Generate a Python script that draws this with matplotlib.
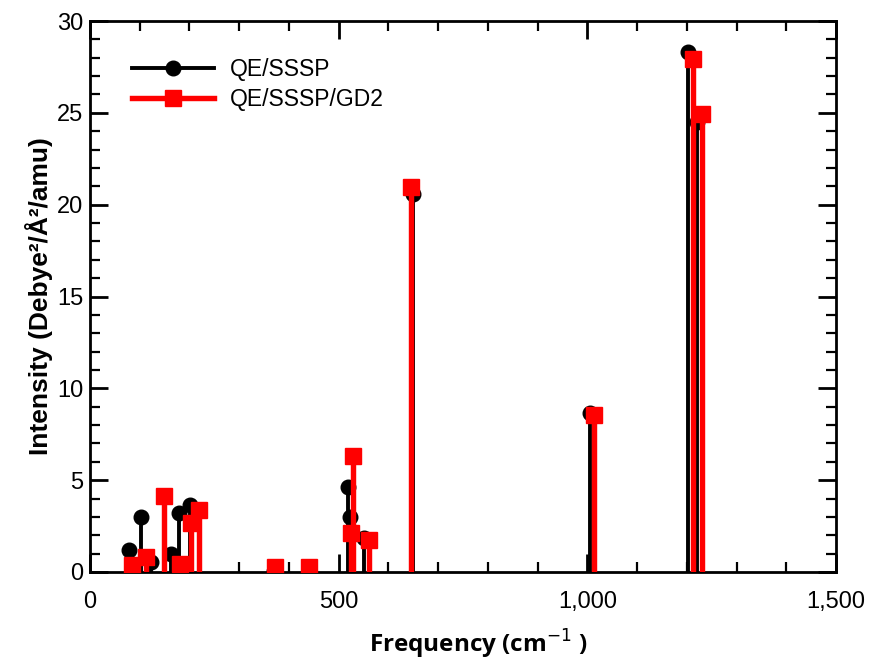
import matplotlib
matplotlib.use("Agg")
import matplotlib.pyplot as plt
from matplotlib.ticker import MultipleLocator, FuncFormatter

# QE/SSSP
freq_sssp = [79, 103, 123, 162, 178, 201, 370, 440, 519, 523, 550, 650, 1005, 1203, 1220]
int_sssp = [1.2, 3.0, 0.56, 1.0, 3.23, 3.65, 0.03, 0.03, 4.64, 3.0, 1.83, 20.6, 8.68, 28.32, 24.5]

# QE/SSSP/GD2
freq_gd2 = [85, 113, 148, 180, 203, 219, 372, 441, 525, 528, 560, 646, 1014, 1213, 1231]
int_gd2 = [0.38, 0.83, 4.14, 0.44, 2.65, 3.36, 0.29, 0.29, 2.1, 6.3, 1.74, 20.97, 8.53, 27.94, 24.95]

labels = ["QE/SSSP", "QE/SSSP/GD2"]
x_ticks = [0, 500, 1000, 1500]
y_ticks = [0, 5, 10, 15, 20, 25, 30]

plt.rcParams['font.family'] = ['Liberation Sans', 'DejaVu Sans']

fig = plt.figure(figsize=(8.71, 6.62), dpi=100)
ax = fig.add_axes([90/871, (662-572)/662, (836-90)/871, (572-21)/662])

def stems(xs, ys, color, lw, marker, ms, label, z):
    ax.vlines(xs, 0, ys, colors=color, linewidth=lw, zorder=z)
    ax.plot(xs, ys, linestyle='none', marker=marker, color=color, markersize=ms, zorder=z + 0.5)
    ax.plot([], [], color=color, linewidth=lw, marker=marker, markersize=ms, label=label)

stems(freq_sssp, int_sssp, 'black', 2.8, 'o', 10.5, labels[0], 2)
stems(freq_gd2, int_gd2, '#ff0000', 3.9, 's', 11.5, labels[1], 3)

ax.set_xlim(0, 1500)
ax.set_ylim(0, 30)
ax.set_xticks(x_ticks)
ax.set_yticks(y_ticks)
ax.xaxis.set_minor_locator(MultipleLocator(100))
ax.yaxis.set_minor_locator(MultipleLocator(1))
ax.xaxis.set_major_formatter(FuncFormatter(lambda v, p: f"{int(v):,}"))

for s in ax.spines.values():
    s.set_linewidth(2.0)
ax.tick_params(which='major', direction='in', length=13, width=2.0, top=True, right=True,
               labelsize=17)
ax.tick_params(axis='x', which='major', pad=14)
ax.tick_params(axis='y', which='major', pad=5)
ax.tick_params(which='minor', direction='in', length=7, width=1.6, top=True, right=True)

ax.set_ylabel("Intensity (Debye²/Å²/amu)", fontsize=19, fontweight='bold', labelpad=3)
ax.set_xlabel("Frequency (cm$^{-1}$ )", fontsize=17.5, fontweight='bold',
              family=['Open Sans', 'DejaVu Sans'], labelpad=10)
ax.xaxis.label.set_x(0.52)

ax.legend(loc='upper left', frameon=False, fontsize=16.5, handlelength=3.6,
          bbox_to_anchor=(0.028, 0.97), labelspacing=0.3, handletextpad=0.7)

fig.savefig("out.png", dpi=100)
